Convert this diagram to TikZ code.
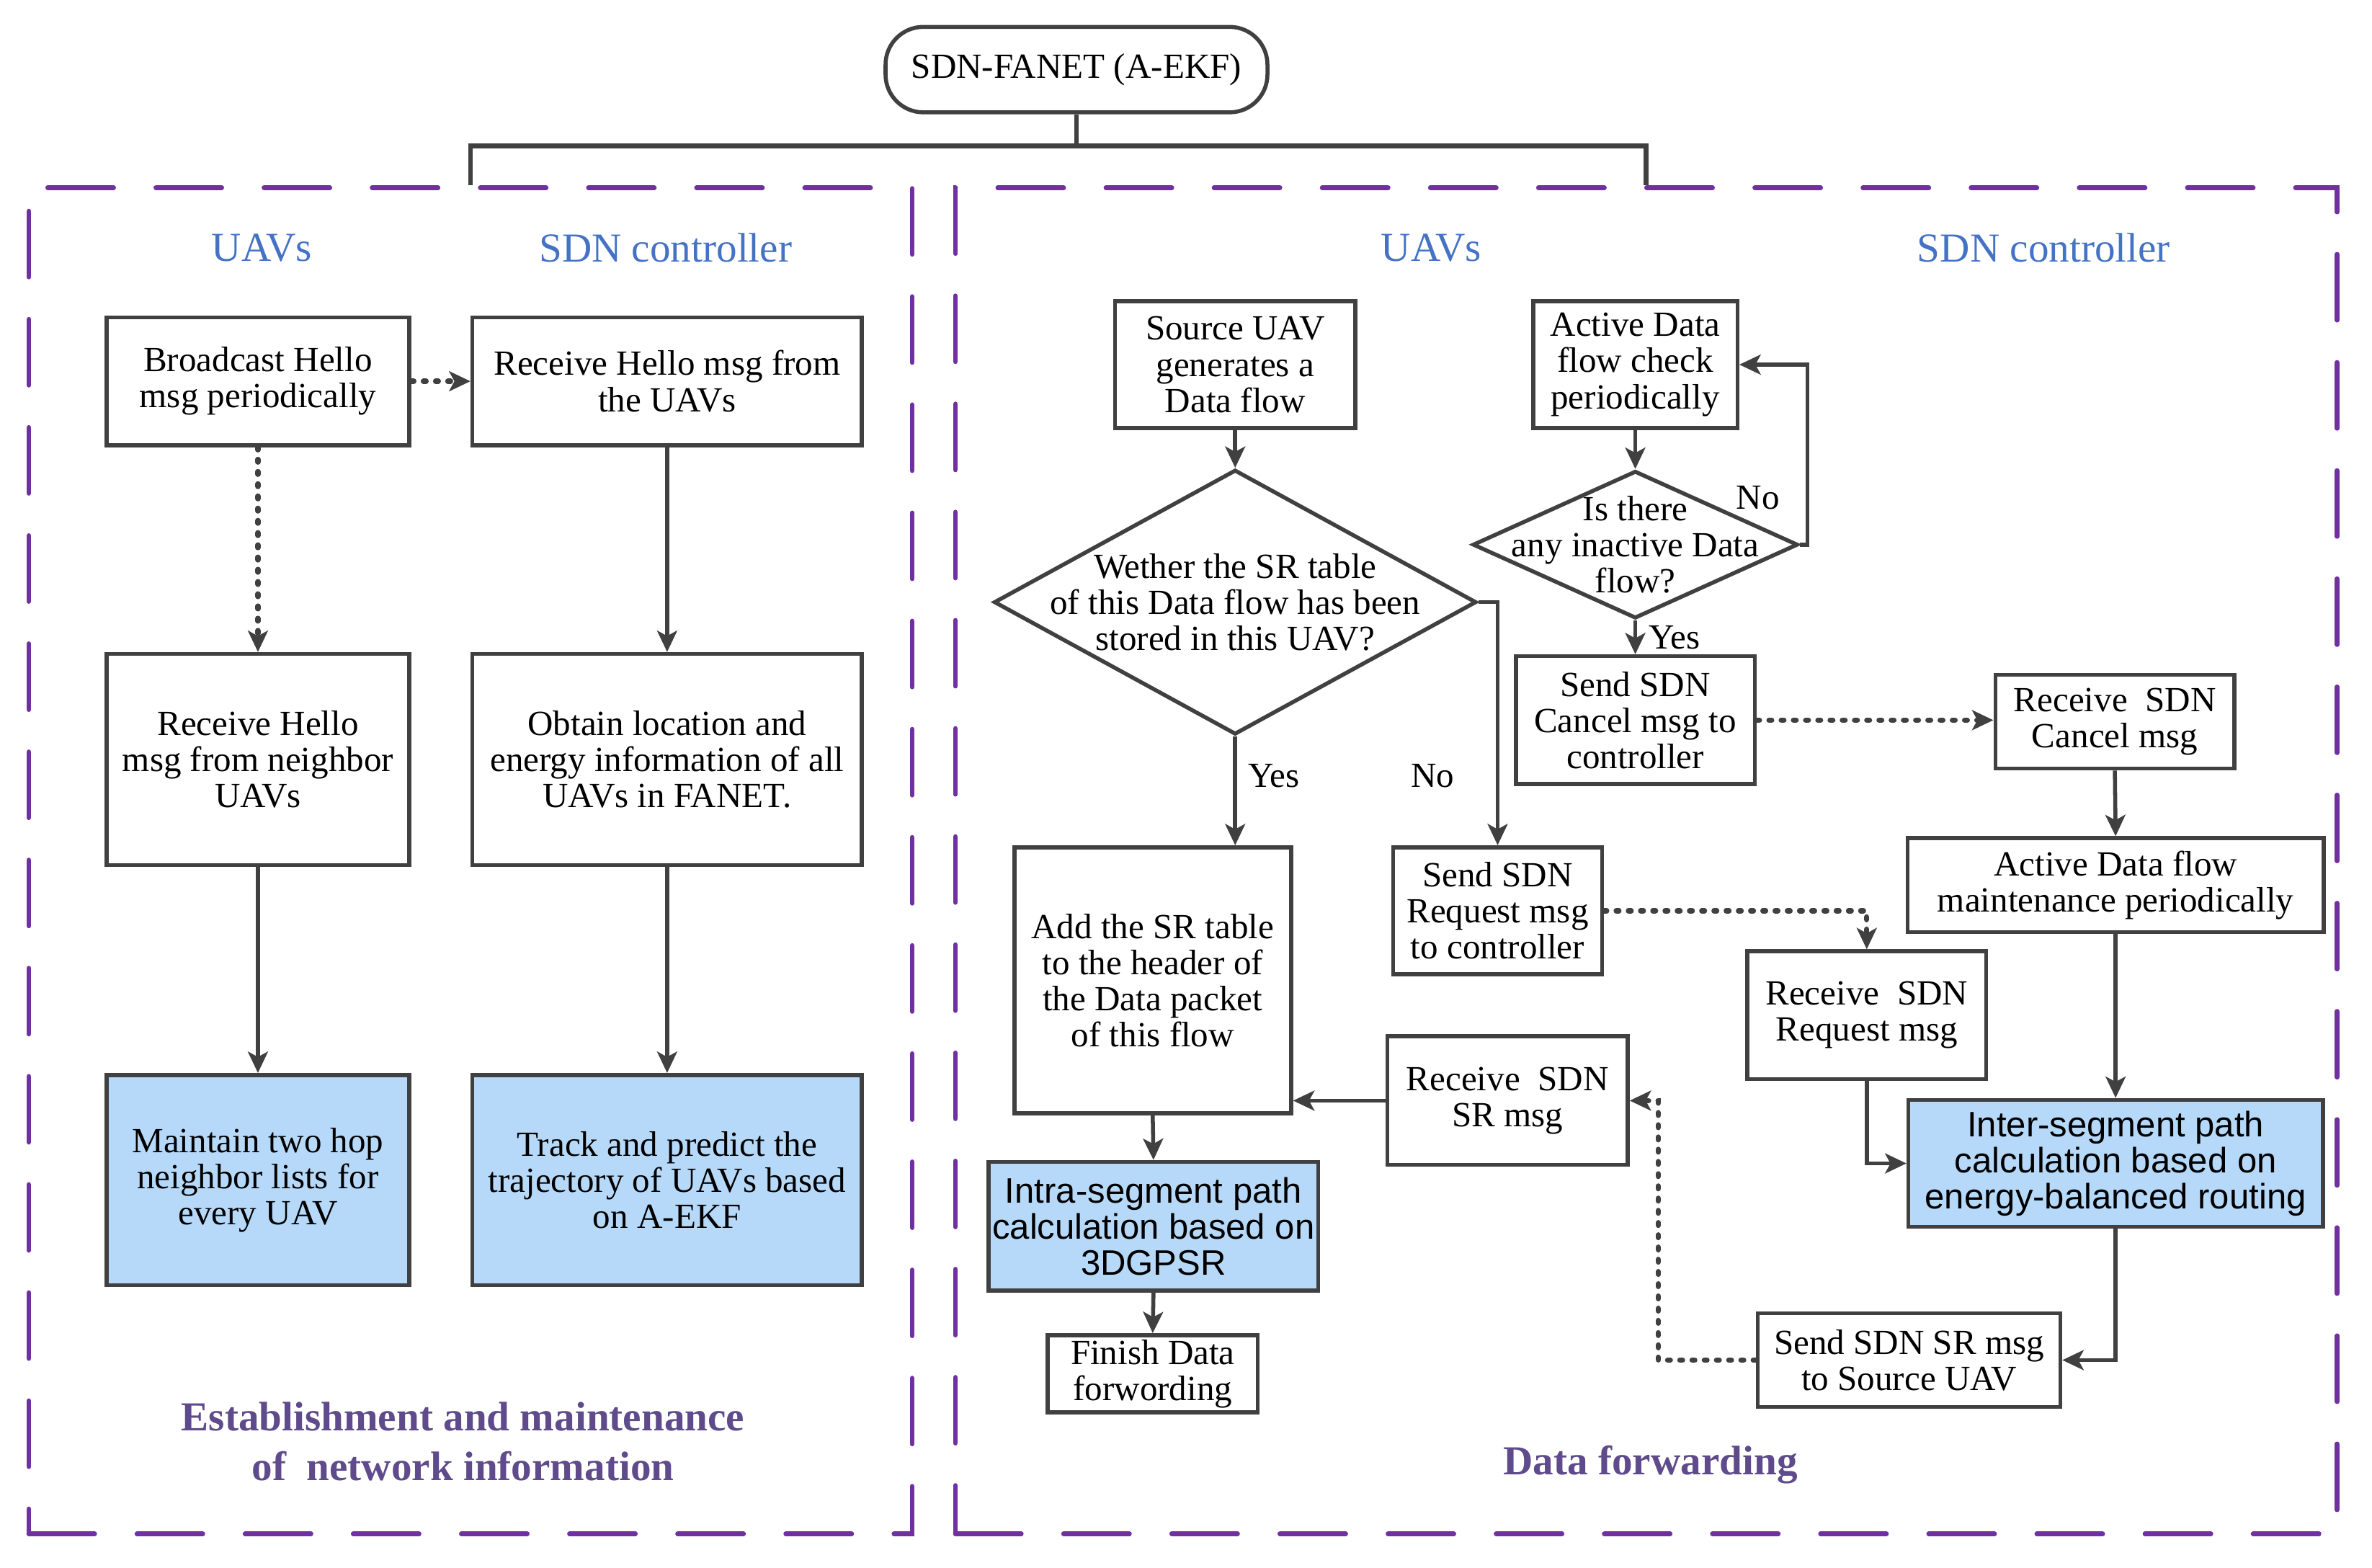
\documentclass[tikz,border=0pt]{standalone}
\usepackage{fontspec}
\setmainfont{Liberation Serif}
\setsansfont{Liberation Sans}
\usepackage{tikz,xcolor}
\usetikzlibrary{calc,positioning,shapes.geometric,arrows.meta}

\definecolor{linegray}{HTML}{404040}
\definecolor{panelpurple}{HTML}{7030A0}
\definecolor{headblue}{HTML}{4472C4}
\definecolor{titlepurple}{HTML}{5F4B8B}
\definecolor{boxblue}{HTML}{B7D9F9}

\begin{document}
\begin{tikzpicture}[x=0.02cm, y=-0.02cm,
        box/.style={draw=linegray, line width=1.5pt, fill=white, align=center, inner sep=0pt, font=\fontsize{13.3}{13.6}\selectfont},
        bluebox/.style={box, fill=boxblue},
        sansbox/.style={bluebox, font=\sffamily\fontsize{13.3}{13.6}\selectfont},
        decision/.style={draw=linegray, line width=1.5pt, diamond, inner sep=0pt},
        panel/.style={draw=panelpurple, line width=1.8pt, line cap=round, dash pattern=on 0.87cm off 0.56cm},
        line/.style={draw=linegray, line width=1.5pt},
        arrow/.style={line, -{Stealth[length=8pt,width=7.5pt,inset=2pt]}},
        dotarrow/.style={arrow, line width=2pt, line cap=round, dash pattern=on 1pt off 3.6pt},
        head/.style={text=headblue, font=\fontsize{15.5}{18}\selectfont},
        title/.style={text=titlepurple, align=center, font=\bfseries\fontsize{15.5}{18.7}\selectfont},
        lbl/.style={align=center, font=\fontsize{13.3}{13.6}\selectfont}]

        \useasboundingbox (0,0) rectangle (1568,1036);

        % frames
        \node[panel, minimum width=11.68cm, minimum height=17.8cm] (leftpanel) at (311,569) {};
        \node[panel, minimum width=18.27cm, minimum height=17.8cm] (rightpanel) at (1088.25,569) {};

        \node[box, rounded corners=0.5cm, minimum width=5.05cm, minimum height=1.13cm] (top) at (711.6,46) {SDN-FANET (A-EKF)};
        \coordinate (bus) at (711.6,96.5);
        \draw[line, line width=1.8pt] (top.south) -- (bus);
        \draw[line, line width=1.8pt] (leftpanel.north) -- (leftpanel.north |- bus) -- (rightpanel.north |- bus) -- (rightpanel.north);

        \foreach \x/\t [count=\i] in {173/UAVs, 440/SDN controller, 946/UAVs, 1351/SDN controller}
            \node[head] (head\i) at (\x,164) {\t};

        % establishment and maintenance
        \node[box, minimum width=4cm, minimum height=1.69cm] (bcast) at (170.5,252) {Broadcast Hello\\msg periodically};
        \node[box, minimum width=5.15cm, minimum height=1.69cm] (rxhello) at (441,252) {Receive Hello msg from\\the UAVs};
        \node[box, minimum width=4cm, minimum height=2.79cm] (rxnbr) at (170.5,502) {Receive Hello\\msg from neighbor\\UAVs};
        \node[box, minimum width=5.15cm, minimum height=2.79cm] (obtain) at (441,502) {Obtain location and\\energy information of all\\UAVs in FANET.};
        \node[bluebox, minimum width=4cm, minimum height=2.78cm] (maintain) at (170.5,780) {Maintain two hop\\neighbor lists for\\every UAV};
        \node[bluebox, minimum width=5.15cm, minimum height=2.78cm] (track) at (441,780) {Track and predict the\\trajectory of UAVs based\\on A-EKF};

        \draw[dotarrow] (bcast.east) -- (rxhello.west);
        \draw[dotarrow] (bcast.south) -- (rxnbr.north);
        \draw[arrow] (rxhello.south) -- (obtain.north);
        \draw[arrow] (rxnbr.south) -- (maintain.north);
        \draw[arrow] (obtain.south) -- (track.north);

        \node[title] (nettitle) at (306,953) {Establishment and maintenance\\of\ \ network information};

        % data forwarding
        \node[box, minimum width=3.18cm, minimum height=1.68cm] (source) at (816.5,241) {Source UAV\\generates a\\Data flow};
        \node[decision, minimum width=6.38cm, minimum height=3.5cm] (srq) at (816.5,398) {};
        \node[lbl] (srqtext) at (srq) {Wether the SR table\\of this Data flow has been\\stored in this UAV?};
        \node[box, minimum width=3.66cm, minimum height=3.52cm] (add) at (762,648) {Add the SR table\\to the header of\\the Data packet\\of this flow};
        \node[box, minimum width=2.76cm, minimum height=1.68cm] (sendreq) at (990,602) {Send SDN\\Request msg\\to controller};
        \node[box, minimum width=3.18cm, minimum height=1.7cm] (rxsr) at (996.5,727.5) {Receive\ \ SDN\\SR msg};
        \node[sansbox, minimum width=4.36cm, minimum height=1.7cm] (intra) at (762.5,810.5) {Intra-segment path\\calculation based on\\3DGPSR};
        \node[box, minimum width=2.78cm, minimum height=1.02cm] (finish) at (762,908) {Finish Data\\forwording};

        \node[box, minimum width=2.7cm, minimum height=1.68cm] (active) at (1081,241) {Active Data\\flow check\\periodically};
        \node[decision, minimum width=4.3cm, minimum height=1.95cm] (inactive) at (1081,360) {};
        \node[lbl] (inactivetext) at (inactive) {Is there\\any inactive Data\\flow?};
        \node[box, minimum width=3.16cm, minimum height=1.69cm] (cancel) at (1081,476) {Send SDN\\Cancel msg to\\controller};

        \node[box, minimum width=3.16cm, minimum height=1.24cm] (rxcancel) at (1398,477) {Receive\ \ SDN\\Cancel msg};
        \node[box, minimum width=5.5cm, minimum height=1.24cm] (maint) at (1398.5,585) {Active Data flow\\maintenance periodically};
        \node[box, minimum width=3.16cm, minimum height=1.69cm] (rxreq) at (1234,671) {Receive\ \ SDN\\Request msg};
        \node[sansbox, minimum width=5.48cm, minimum height=1.68cm] (inter) at (1398.5,769) {Inter-segment path\\calculation based on\\energy-balanced routing};
        \node[box, minimum width=4cm, minimum height=1.24cm] (sendsr) at (1262,899) {Send SDN SR msg\\to Source UAV};

        \node[lbl] (yes1) at (842,513) {Yes};
        \node[lbl] (no1) at (947,513) {No};
        \node[lbl] (no2) at (1162,329) {No};
        \node[lbl] (yes2) at (1107,421.5) {Yes};

        \draw[arrow] (source.south) -- (srq.north);
        \draw[arrow] (srq.south) -- (srq.south |- add.north);
        \draw[arrow] (srq.east) -| (sendreq.north);
        \draw[arrow] (add.south) -- (intra.north);
        \draw[arrow] (intra.south) -- (finish.north);
        \draw[arrow] (rxsr.west) -- (rxsr.west -| add.east);

        \draw[arrow] (active.south) -- (inactive.north);
        \draw[arrow] (inactive.east) -- ++(5,0) |- (active.east);
        \draw[arrow] (inactive.south) -- (cancel.north);
        \draw[dotarrow] (cancel.east) -- (cancel.east -| rxcancel.west);

        \draw[arrow] (rxcancel.south) -- (maint.north);
        \draw[arrow] (maint.south) -- (inter.north);
        \draw[dotarrow] (sendreq.east) -| (rxreq.north);
        \draw[arrow] (rxreq.south) |- (inter.west);
        \draw[arrow] (inter.south) |- (sendsr.east);
        \draw[dotarrow] (sendsr.west) -- ++(-64.5,0) |- (rxsr.east);

        \node[title] (datatitle) at (1091,968) {Data forwarding};
    \end{tikzpicture}
\end{document}
